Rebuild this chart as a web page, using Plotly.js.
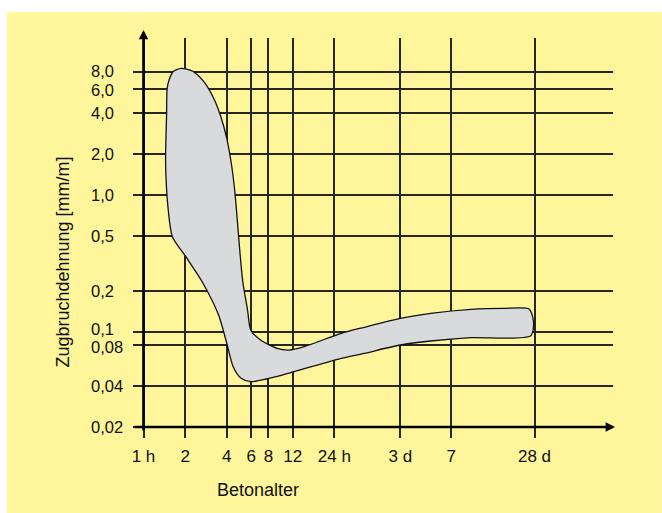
<!DOCTYPE html>
<html>
<head>
<meta charset="utf-8">
<script src="https://cdn.plot.ly/plotly-3.0.1.min.js"></script>
<style>html,body{margin:0;padding:0;background:#fff;}#chart{width:662px;height:513px;}</style>
</head>
<body>
<div id="chart"></div>
<script>
// Concrete age in hours (tick positions) and their labels
const ageTicks = [1, 2, 4, 6, 8, 12, 24, 72, 168, 672];
const ageTickText = ['1 h', '2', '4', '6', '8', '12', '24 h', '3 d', '7', '28 d'];
// Tensile strain at failure [mm/m] (tick positions) and labels
const strainTicks = [0.02, 0.04, 0.08, 0.1, 0.2, 0.5, 1, 2, 4, 6, 8];
const strainTickText = ['0,02', '0,04', '0,08', '0,1', '0,2', '0,5', '1,0', '2,0', '4,0', '6,0', '8,0'];
// Outline of the scatter band (closed)
const bandAge = [1.867, 2.254, 2.731, 3.217, 3.591, 4.0, 4.333, 4.523, 4.692, 4.954, 5.222, 5.656, 5.962, 7.024, 9.236, 11.26, 14.53, 26.92, 39.45, 72, 119.4, 233.1, 405.5, 614.4, 661.1, 632.0, 233.1, 119.4, 72, 39.45, 26.92, 12.27, 7.752, 5.962, 5.082, 4.451, 4.0, 3.492, 2.656, 2.023, 1.617, 1.506, 1.452, 1.445, 1.469, 1.483, 1.531, 1.632, 1.867];
const bandStrain = [8.56, 8.18, 6.83, 5.16, 3.89, 2.625, 1.672, 1.193, 0.804, 0.409, 0.2328, 0.1443, 0.1030, 0.0870, 0.0756, 0.0734, 0.0777, 0.0974, 0.1078, 0.1255, 0.1365, 0.1461, 0.1485, 0.1468, 0.1185, 0.0935, 0.0904, 0.0855, 0.0799, 0.0694, 0.0638, 0.0509, 0.0450, 0.0430, 0.0455, 0.0554, 0.0823, 0.1327, 0.2328, 0.3552, 0.498, 0.804, 1.412, 1.980, 3.89, 6.11, 7.03, 8.09, 8.56];
const xTitle = 'Betonalter';
const yTitle = 'Zugbruchdehnung [mm/m]';

const FONT = '"Liberation Sans", Arial, Helvetica, sans-serif';
const INK = '#111111';

const trace = {
  type: 'scatter', mode: 'lines',
  x: bandAge, y: bandStrain,
  fill: 'toself', fillcolor: '#d9dadc',
  line: {color: '#111111', width: 1.3, shape: 'spline', smoothing: 0.7},
  hoverinfo: 'skip', showlegend: false
};

// small vertical nudges so close labels do not collide (as in the original)
const labelShift = {'0,1': 3, '0,08': -2, '8,0': 1, '6,0': -1};

const annotations = [];
strainTicks.forEach((v, i) => {
  annotations.push({
    xref: 'paper', yref: 'y', x: -0.0896, y: Math.log10(v),
    xanchor: 'left', yanchor: 'middle', showarrow: false, borderpad: 0,
    yshift: labelShift[strainTickText[i]] || 0,
    text: strainTickText[i], font: {family: FONT, size: 16.5, color: INK}
  });
});
annotations.push({xref: 'paper', yref: 'paper', x: 0.26, y: -0.13, xanchor: 'center', yanchor: 'middle',
  showarrow: false, text: xTitle, font: {family: FONT, size: 18, color: INK}});
annotations.push({xref: 'paper', yref: 'paper', x: -0.146, y: 0.441, xanchor: 'center', yanchor: 'middle',
  showarrow: false, textangle: -90, text: yTitle, font: {family: FONT, size: 18, color: INK}});
annotations.push({xref: 'paper', yref: 'y', x: 1.0042, y: Math.log10(strainTicks[0]), ax: -482, ay: 0,
  axref: 'pixel', ayref: 'pixel', text: '', showarrow: true, arrowhead: 2, arrowsize: 0.72, arrowwidth: 2.6, arrowcolor: '#000'});
annotations.push({xref: 'x', yref: 'paper', x: Math.log10(ageTicks[0]), y: 1.02, ax: 0, ay: 402,
  axref: 'pixel', ayref: 'pixel', text: '', showarrow: true, arrowhead: 2, arrowsize: 0.72, arrowwidth: 2.6, arrowcolor: '#000'});

const layout = {
  width: 662, height: 513,
  margin: {l: 133, r: 49, t: 38, b: 75, pad: 0},
  paper_bgcolor: '#ffffff', plot_bgcolor: 'rgba(0,0,0,0)',
  showlegend: false, dragmode: false,
  font: {family: FONT, size: 17, color: INK},
  xaxis: {
    type: 'log', range: [-0.0759, 3.395], tickmode: 'array', tickvals: ageTicks, ticktext: ageTickText,
    showgrid: true, gridcolor: '#262626', gridwidth: 2, zeroline: false, showline: false,
    ticks: '', ticklabelstandoff: 6, tickfont: {family: FONT, size: 17, color: INK}, fixedrange: true
  },
  yaxis: {
    type: 'log', range: [-1.7797, 1.155], tickmode: 'array', tickvals: strainTicks,
    showgrid: true, gridcolor: '#262626', gridwidth: 2, zeroline: false, showline: false,
    showticklabels: false, ticks: '', fixedrange: true
  },
  shapes: [{
    type: 'rect', xref: 'paper', yref: 'paper', x0: -0.2625, x1: 1.102, y0: -0.1875, y1: 1.065,
    fillcolor: '#fff59b', line: {width: 0}, layer: 'below'
  }],
  annotations: annotations
};

Plotly.newPlot('chart', [trace], layout, {displayModeBar: false});
</script>
</body>
</html>
